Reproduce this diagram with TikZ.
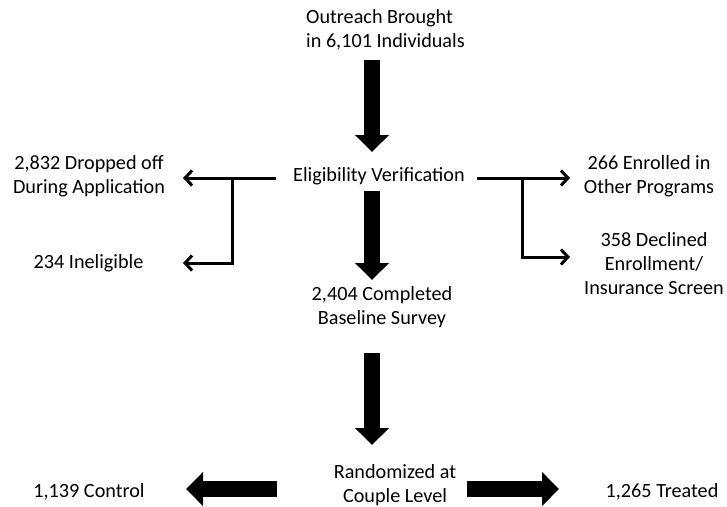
\documentclass[tikz,border=0pt]{standalone}
\usepackage{fontspec}
\setmainfont{Carlito}
\usetikzlibrary{arrows.meta}
\begin{document}
\begin{tikzpicture}[x=1pt,y=-1pt,
  lbl/.style={font=\fontsize{20.2}{24}\selectfont, inner sep=0pt, align=center, anchor=base},
  fatarrow/.style={line width=16pt, -{Triangle[width=33pt,length=17pt]}},
  slimarrow/.style={line width=3pt, line join=miter, -{Straight Barb[length=7pt,width=15pt]}}]
\useasboundingbox (0,0) rectangle (727,506);
% texts (base anchor = baseline of the last line)
\node[lbl, anchor=base west, align=left] (out) at (306,47) {Outreach Brought\\in 6,101 Individuals};
\node[lbl] (elig) at (379,181) {Eligibility Verification};
\node[lbl] (drop) at (89,193) {2,832 Dropped off\\During Application};
\node[lbl] (inel) at (88.5,268) {234 Ineligible};
\node[lbl] (enr) at (649,193) {266 Enrolled in\\Other Programs};
\node[lbl] (decl) at (654,294) {358 Declined\\Enrollment/\\Insurance Screen};
\node[lbl] (base) at (382,324) {2,404 Completed\\Baseline Survey};
\node[lbl] (rand) at (395,502) {Randomized at\\Couple Level};
\node[lbl] (ctrl) at (89,497) {1,139 Control};
\node[lbl] (treat) at (662,497) {1,265 Treated};
% connector end points
\coordinate (a1s) at (372,60);   \coordinate (a1e) at (372,152);
\coordinate (a2s) at (372,191);  \coordinate (a2e) at (372,280);
\coordinate (a3s) at (372,353);  \coordinate (a3e) at (372,445);
\coordinate (cs) at (277,489);   \coordinate (ce) at (186,489);
\coordinate (ts) at (467,489);   \coordinate (te) at (559,489);
\coordinate (lS) at (276,178);   \coordinate (lE) at (183,178);
\coordinate (lB) at (232,178);   \coordinate (lI) at (183,263);
\coordinate (rS) at (477,178);   \coordinate (rE) at (570,178);
\coordinate (rB) at (522,178);   \coordinate (rD) at (570,257);
% fat arrows
\draw[fatarrow] (a1s) -- (a1e);
\draw[fatarrow] (a2s) -- (a2e);
\draw[fatarrow] (a3s) -- (a3e);
\draw[fatarrow] (cs) -- (ce);
\draw[fatarrow] (ts) -- (te);
% thin branch arrows
\draw[slimarrow] (lS) -- (lE);
\draw[slimarrow] (lB) |- (lI);
\draw[slimarrow] (rS) -- (rE);
\draw[slimarrow] (rB) |- (rD);
\end{tikzpicture}
\end{document}
